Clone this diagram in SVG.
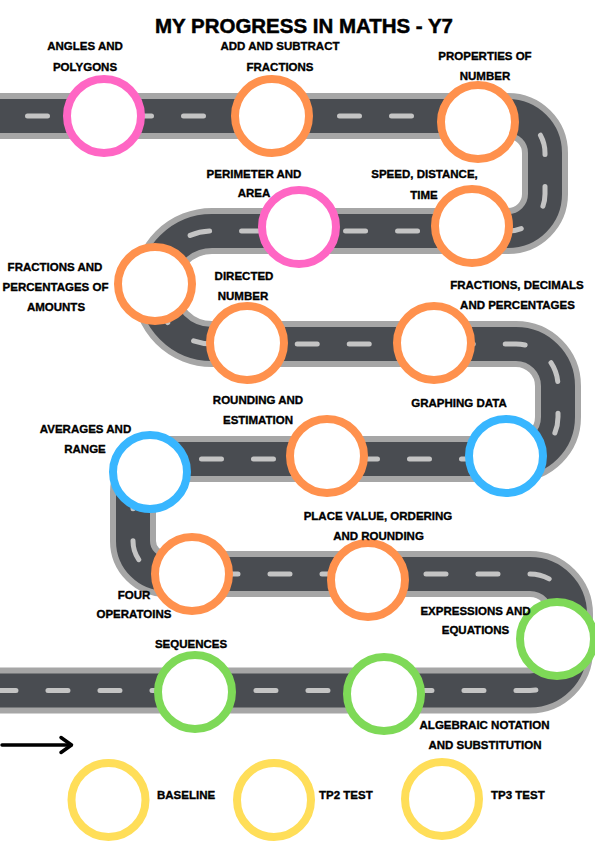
<svg xmlns="http://www.w3.org/2000/svg" width="595" height="842" viewBox="0 0 595 842">
<style>
.road{fill:none;stroke-linejoin:round}
.rb{stroke:#a6a6a6;stroke-width:46}
.rd{stroke:#494c51;stroke-width:34}
.rl{stroke:#c4c4c4;stroke-width:5;stroke-linecap:round;stroke-dasharray:20 32;stroke-dashoffset:14.5}
circle{fill:#fff;stroke-width:8}
.pk{stroke:#ff66c4}
.or{stroke:#ff914d}
.bl{stroke:#38b6ff}
.gr{stroke:#7ed957}
.ye{stroke:#ffde59}
text{font-family:"Liberation Sans",Arial,sans-serif;font-weight:bold;font-size:11.5px;fill:#000;stroke:#000;stroke-width:0.35;text-anchor:middle}
.l{text-anchor:start}
.title{font-size:21px;stroke-width:0.5}
</style>
<defs>
<path id="roadpath" d="M -10 116 H 508 A 37 37 0 0 1 545 153 V 194 A 37 37 0 0 1 508 231 H 212 A 56.5 56.5 0 0 0 212 344 H 516 A 42 42 0 0 1 558 386 V 417 A 42 42 0 0 1 516 459 H 166 A 33 33 0 0 0 133 492 V 541 A 33 33 0 0 0 166 574 H 530 A 40 40 0 0 1 570 614 V 650.5 A 40 40 0 0 1 530 690.5 H -10"/>
</defs>
<rect width="595" height="842" fill="#fff"/>
<g id="road">
<use href="#roadpath" class="road rb"/>
<use href="#roadpath" class="road rd"/>
<use href="#roadpath" class="road rl"/>
</g>
<text class="title" x="304" y="33" textLength="298" lengthAdjust="spacingAndGlyphs">MY PROGRESS IN MATHS - Y7</text>
<g id="angles"><circle class="pk" cx="104" cy="116" r="37"/><text x="85" y="50">ANGLES AND</text><text x="85" y="70.5">POLYGONS</text></g>
<g id="addsub"><circle class="or" cx="272" cy="116" r="37"/><text x="280" y="50">ADD AND SUBTRACT</text><text x="280" y="70.5">FRACTIONS</text></g>
<g id="properties"><circle class="or" cx="478" cy="122" r="37"/><text x="485" y="59.5">PROPERTIES OF</text><text x="485" y="80">NUMBER</text></g>
<g id="speed"><circle class="or" cx="472" cy="226" r="37"/><text x="424.5" y="178">SPEED, DISTANCE,</text><text x="424" y="199">TIME</text></g>
<g id="perimeter"><circle class="pk" cx="299" cy="227" r="37"/><text x="254" y="178">PERIMETER AND</text><text x="254" y="197">AREA</text></g>
<g id="fracamounts"><circle class="or" cx="155" cy="284" r="37"/><text x="55" y="270.5">FRACTIONS AND</text><text x="55.5" y="290.5">PERCENTAGES OF</text><text x="56" y="310.5">AMOUNTS</text></g>
<g id="directed"><circle class="or" cx="247" cy="343" r="37"/><text x="244" y="280">DIRECTED</text><text x="243" y="300">NUMBER</text></g>
<g id="fdp"><circle class="or" cx="434" cy="343" r="37"/><text x="517" y="289">FRACTIONS, DECIMALS</text><text x="517.5" y="309">AND PERCENTAGES</text></g>
<g id="graphing"><circle class="bl" cx="506" cy="456" r="37"/><text x="459" y="407">GRAPHING DATA</text></g>
<g id="rounding"><circle class="or" cx="327" cy="456" r="37"/><text x="258" y="404">ROUNDING AND</text><text x="258" y="424">ESTIMATION</text></g>
<g id="averages"><circle class="bl" cx="150" cy="472" r="37"/><text x="85.5" y="432.5">AVERAGES AND</text><text x="85" y="452.5">RANGE</text></g>
<g id="fourops"><circle class="or" cx="192" cy="574" r="37"/><text x="134" y="599">FOUR</text><text x="134" y="618">OPERATOINS</text></g>
<g id="placevalue"><circle class="or" cx="368" cy="580" r="37"/><text x="378" y="520">PLACE VALUE, ORDERING</text><text x="378.5" y="540">AND ROUNDING</text></g>
<g id="expressions"><circle class="gr" cx="557" cy="639" r="37"/><text x="475.5" y="615">EXPRESSIONS AND</text><text x="475.5" y="634">EQUATIONS</text></g>
<g id="sequences"><circle class="gr" cx="195" cy="692" r="37"/><text x="191" y="648">SEQUENCES</text></g>
<g id="algebraic"><circle class="gr" cx="384" cy="694" r="37"/><text x="484.5" y="729">ALGEBRAIC NOTATION</text><text x="485" y="749">AND SUBSTITUTION</text></g>
<g id="arrow" fill="none" stroke="#000" stroke-width="3.5" stroke-linecap="round" stroke-linejoin="round"><path d="M 2 745 H 71"/><path d="M 61 737.5 L 71.5 745 L 61 752.5"/></g>
<g id="baseline"><circle class="ye" cx="108.5" cy="800" r="37"/><text class="l" x="157" y="799">BASELINE</text></g>
<g id="tp2"><circle class="ye" cx="274" cy="800" r="37"/><text class="l" x="319" y="799">TP2 TEST</text></g>
<g id="tp3"><circle class="ye" cx="442" cy="799" r="37"/><text class="l" x="491" y="799">TP3 TEST</text></g>
</svg>
